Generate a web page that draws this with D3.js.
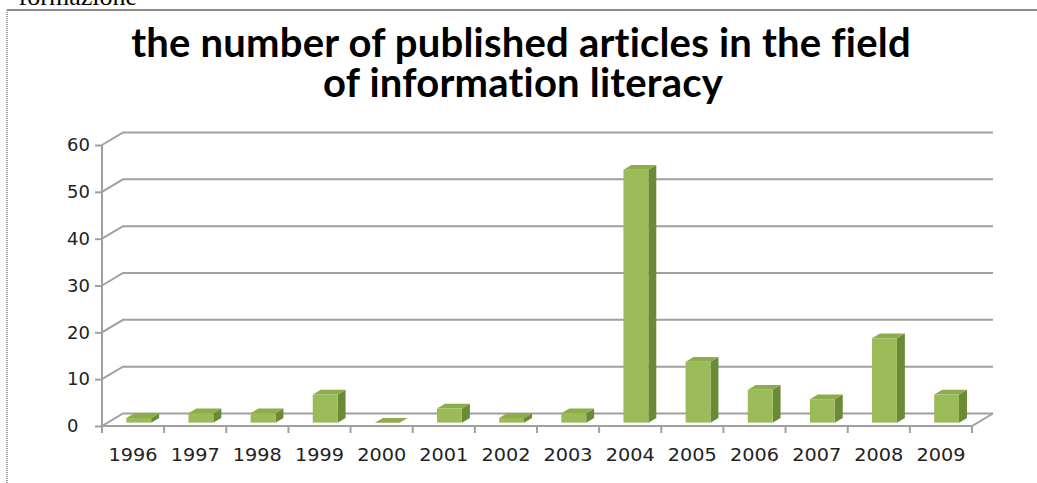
<!DOCTYPE html>
<html><head><meta charset="utf-8">
<script src="https://cdn.jsdelivr.net/npm/d3@7"></script>
<style>html,body{margin:0;padding:0;background:#fff;overflow:hidden} .ttl{font-variant-ligatures:none;font-feature-settings:"liga" 0;letter-spacing:0.2px}</style>
</head><body>
<svg id="c" width="1037" height="483"></svg>
<script>
const years = ["1996","1997","1998","1999","2000","2001","2002","2003","2004","2005","2006","2007","2008","2009"];
const articles = [1,2,2,6,0,3,1,2,54,13,7,5,18,6];
const yTicks = [0,10,20,30,40,50,60];
const titleLines = ["the number of published articles in the field","of information literacy"];

const svg = d3.select("#c");
const W = 1037, H = 483;
svg.append("rect").attr("width",W).attr("height",H).attr("fill","#fff");

// top stray text
svg.append("text").attr("x",137).attr("y",5).attr("text-anchor","end")
  .attr("font-family","Liberation Serif, serif").attr("font-size",26).attr("fill","#000")
  .text("formazione");

// chart frame
svg.append("line").attr("x1",7).attr("y1",10).attr("x2",W).attr("y2",10)
  .attr("stroke","#8c8c8c").attr("stroke-width",2);
svg.append("line").attr("x1",7).attr("y1",10).attr("x2",7).attr("y2",H)
  .attr("stroke","#9a9a9a").attr("stroke-width",2).attr("stroke-dasharray","1,1");

// title
const tg = svg.append("g");
const t1 = tg.append("text").attr("class","ttl").attr("x",521).attr("y",57).attr("text-anchor","middle")
  .attr("font-family","Lato, sans-serif").attr("font-weight",700).attr("font-size",30)
  .attr("fill","#000").text(titleLines[0]);
const w1 = t1.node().getComputedTextLength();
const fs = 30*783/w1;
t1.attr("font-size",fs);
tg.append("text").attr("class","ttl").attr("x",523).attr("y",97).attr("text-anchor","middle")
  .attr("font-family","Lato, sans-serif").attr("font-weight",700).attr("font-size",fs)
  .attr("fill","#000").text(titleLines[1]);

// scales
const x0 = 102, x1 = 972, yBase = 426, yTop = 145;
const DX = 21, DY = -12.5;
const x = d3.scaleBand().domain(years).range([x0,x1]).padding(0);
const y = d3.scaleLinear().domain([0,60]).range([yBase,yTop]);

const grid = "#a0a0a0";
const g = svg.append("g");
yTicks.forEach(t=>{
  const yy = y(t);
  g.append("path").attr("d",`M${x0},${yy}L${x0+DX},${yy+DY}L${x1+DX},${yy+DY}`)
    .attr("fill","none").attr("stroke",grid).attr("stroke-width",2);
});
g.append("path").attr("d",`M${x0},${yBase}L${x1},${yBase}L${x1+DX},${yBase+DY}`)
  .attr("fill","none").attr("stroke",grid).attr("stroke-width",2);

// y axis
const ya = svg.append("g").attr("transform",`translate(${x0},0)`)
  .call(d3.axisLeft(y).tickValues(yTicks).tickSize(7).tickPadding(0));
ya.select(".domain").attr("stroke",grid).attr("stroke-width",2).attr("d",`M0,${yTop}V${yBase+6}`);
ya.selectAll(".tick line").attr("stroke",grid).attr("stroke-width",2);
ya.selectAll(".tick text").attr("x",-35).attr("text-anchor","start")
  .attr("font-family","DejaVu Sans, sans-serif").attr("font-size",18).attr("fill","#222");

// x axis: ticks at category boundaries
const xa = svg.append("g").attr("transform",`translate(0,${yBase})`)
  .call(d3.axisBottom(x).tickSize(0).tickPadding(22));
xa.select(".domain").remove();
xa.selectAll(".tick text").attr("font-family","DejaVu Sans, sans-serif").attr("font-size",18)
  .attr("fill","#222").attr("textLength",49).attr("lengthAdjust","spacingAndGlyphs");
const edges = years.map(d=>x(d)).concat([x1]);
svg.append("g").selectAll("line").data(edges).join("line")
  .attr("x1",d=>d).attr("x2",d=>d).attr("y1",yBase).attr("y2",yBase+7)
  .attr("stroke",grid).attr("stroke-width",2);

// bars (3D)
const bw = x.bandwidth()*0.4;
const f = 0.27, dep = 0.38;
const fdx = DX*f, fdy = DY*f, sdx = DX*dep, sdy = DY*dep;
const bars = svg.append("g").selectAll("g").data(years.map((d,i)=>({year:d,v:articles[i]}))).join("g");
bars.each(function(d){
  const gg = d3.select(this);
  const left = x(d.year) + x.bandwidth()/2 - bw/2 + fdx;
  const right = left + bw;
  const bot = yBase + fdy;
  const top = y(d.v) + fdy;
  gg.append("path").attr("d",`M${right},${bot}L${right+sdx},${bot+sdy}L${right+sdx},${top+sdy}L${right},${top}Z`)
    .attr("fill","#6b8a36");
  gg.append("path").attr("d",`M${left},${top}L${left+sdx},${top+sdy}L${right+sdx},${top+sdy}L${right},${top}Z`)
    .attr("fill","#8cad4a");
  gg.append("rect").attr("x",left).attr("y",top).attr("width",bw).attr("height",Math.max(0,bot-top))
    .attr("fill","#9bbb59");
});
</script>
</body></html>
